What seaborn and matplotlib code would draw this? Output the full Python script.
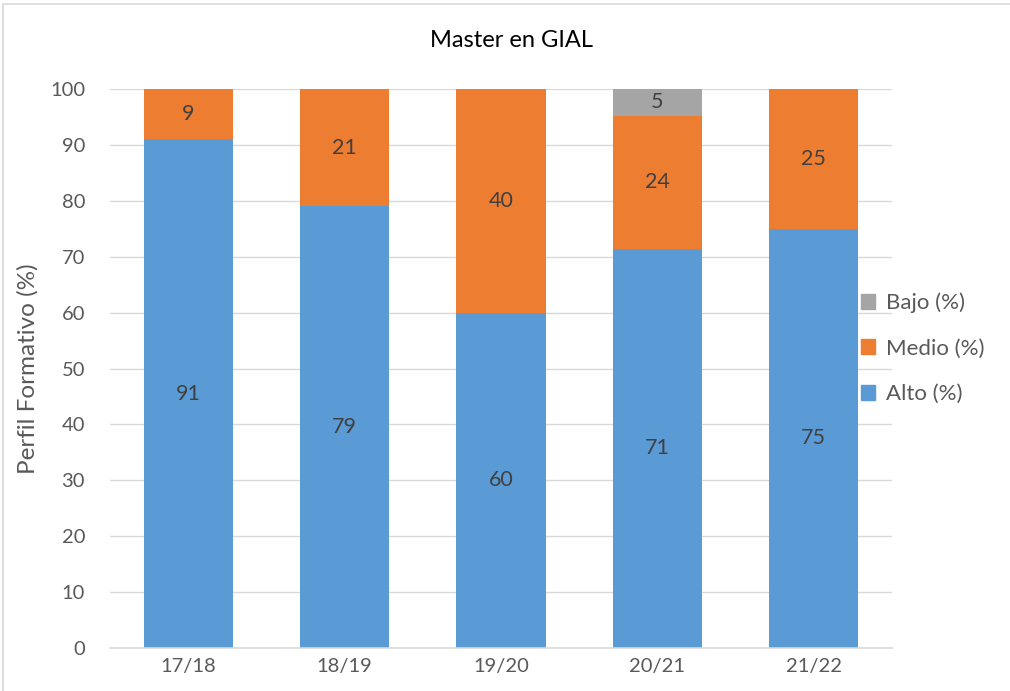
import matplotlib
matplotlib.use("Agg")
import matplotlib.pyplot as plt
import seaborn as sns
import pandas as pd
import numpy as np
from matplotlib.patches import Rectangle, Patch

sns.set_theme(style="white")
plt.rcParams['font.family'] = ['Lato', 'DejaVu Sans']

years = ["17/18", "18/19", "19/20", "20/21", "21/22"]
alto = [91, 79, 60, 71.4, 75]
medio = [9, 21, 40, 23.8, 25]
bajo = [0, 0, 0, 4.8, 0]
alto_lbl = ["91", "79", "60", "71", "75"]
medio_lbl = ["9", "21", "40", "24", "25"]
bajo_lbl = ["", "", "", "5", ""]

c_alto = "#5B9BD5"
c_medio = "#ED7D31"
c_bajo = "#A5A5A5"

df = pd.DataFrame({"year": years, "alto": alto, "medio": medio, "bajo": bajo})
df["bottom_medio"] = df["alto"]
df["bottom_bajo"] = df["alto"] + df["medio"]

fig = plt.figure(figsize=(10.10, 6.91), dpi=100)
ax = fig.add_axes([0.109, 0.0622, 0.774, 0.809])

sns.barplot(data=df, x="year", y="alto", color=c_alto, width=0.57, ax=ax,
            saturation=1, linewidth=0)
sns.barplot(data=df, x="year", y="medio", color=c_medio, width=0.57, ax=ax,
            saturation=1, linewidth=0, bottom=df["bottom_medio"].values)
sns.barplot(data=df, x="year", y="bajo", color=c_bajo, width=0.57, ax=ax,
            saturation=1, linewidth=0, bottom=df["bottom_bajo"].values)

txt_col = "#404040"
for i in range(len(years)):
    ax.text(i, alto[i] / 2, alto_lbl[i], ha="center", va="center", fontsize=15.5, color=txt_col)
    ax.text(i, alto[i] + medio[i] / 2, medio_lbl[i], ha="center", va="center", fontsize=15.5, color=txt_col)
    if bajo[i] > 0:
        ax.text(i, alto[i] + medio[i] + bajo[i] / 2, bajo_lbl[i], ha="center", va="center", fontsize=15.5, color=txt_col)

ax.set_ylim(0, 100)
ax.set_xlim(-0.5, 4.5)
ax.set_yticks(range(0, 101, 10))
ax.yaxis.grid(True, color="#D9D9D9", linewidth=1)
ax.set_axisbelow(True)
for s in ["top", "right", "left"]:
    ax.spines[s].set_visible(False)
ax.spines["bottom"].set_color("#D9D9D9")
ax.spines["bottom"].set_linewidth(1.2)
ax.tick_params(axis="both", length=0, labelsize=14.5, colors="#595959")
ax.tick_params(axis="x", pad=7)
ax.tick_params(axis="y", pad=18)
ax.set_xlabel("")
ax.set_ylabel("Perfil Formativo (%)", fontsize=17.5, color="#595959", labelpad=8)
fig.text(0.506, 0.942, "Master en GIAL", ha="center", va="center", fontsize=17, color="#000000")

handles = [Patch(color=c_bajo, label="Bajo (%)"),
           Patch(color=c_medio, label="Medio (%)"),
           Patch(color=c_alto, label="Alto (%)")]
fig.legend(handles=handles, loc="center left", bbox_to_anchor=(0.852, 0.496),
           frameon=False, fontsize=16, handlelength=0.65, handleheight=0.65,
           handletextpad=0.5, labelspacing=1.15, labelcolor="#595959",
           borderaxespad=0, borderpad=0)

fig.patches.append(Rectangle((3 / 1010, -0.1), 1.1, 1 - 4 / 691 + 0.1, transform=fig.transFigure,
                             fill=False, edgecolor="#D9D9D9", linewidth=1.2))

fig.savefig("out.png", dpi=100)
